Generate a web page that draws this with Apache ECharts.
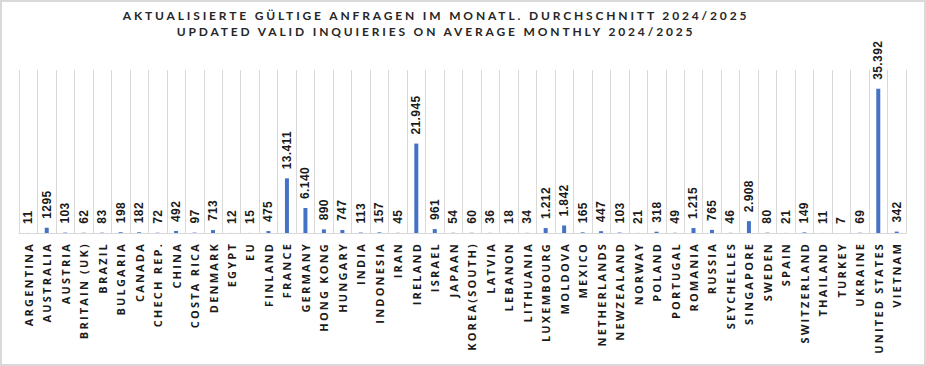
<!DOCTYPE html>
<html>
<head>
<meta charset="utf-8">
<script src="https://cdn.jsdelivr.net/npm/echarts@6/dist/echarts.min.js"></script>
<style>
  html, body { margin: 0; padding: 0; background: #fff; }
  #chart { width: 926px; height: 366px; box-sizing: border-box; border: 2px solid #d9d9d9; }
  #chart text[style*="Lato"] { letter-spacing: 2.85px; }
  #chart text[style*="Open Sans"] { letter-spacing: 2.2px; }
  #chart text[style*="Liberation Sans"] { letter-spacing: 0.4px; }
</style>
</head>
<body>
<div id="chart"></div>
<script>
const titleLines = [
  'AKTUALISIERTE GÜLTIGE ANFRAGEN IM MONATL. DURCHSCHNITT 2024/2025',
  'UPDATED VALID INQUIERIES ON AVERAGE MONTHLY 2024/2025'
];
const categories = ['ARGENTINA','AUSTRALIA','AUSTRIA','BRITAIN (UK)','BRAZIL','BULGARIA','CANADA','CHECH REP.','CHINA','COSTA RICA','DENMARK','EGYPT','EU','FINLAND','FRANCE','GERMANY','HONG KONG','HUNGARY','INDIA','INDONESIA','IRAN','IRELAND','ISRAEL','JAPAAN','KOREA(SOUTH)','LATVIA','LEBANON','LITHUANIA','LUXEMBOURG','MOLDOVA','MEXICO','NETHERLANDS','NEWZEALAND','NORWAY','POLAND','PORTUGAL','ROMANIA','RUSSIA','SEYCHELLES','SINGAPORE','SWEDEN','SPAIN','SWITZERLAND','THAILAND','TURKEY','UKRAINE','UNITED STATES','VIETNAM'];
const values = [11,1295,103,62,83,198,182,72,492,97,713,12,15,475,13411,6140,890,747,113,157,45,21945,961,54,60,36,18,34,1212,1842,165,447,103,21,318,49,1215,765,46,2908,80,21,149,11,7,69,35392,342];
const valueLabels = ['11','1295','103','62','83','198','182','72','492','97','713','12','15','475','13.411','6.140','890','747','113','157','45','21.945','961','54','60','36','18','34','1.212','1.842','165','447','103','21','318','49','1.215','765','46','2.908','80','21','149','11','7','69','35.392','342'];

const chart = echarts.init(document.getElementById('chart'), null, { renderer: 'svg' });
chart.setOption({
  animation: false,
  title: {
    text: titleLines.join('\n'),
    left: 429, top: 0, textAlign: 'center', padding: 5,
    textStyle: { fontFamily: 'Lato', fontWeight: 'bold', fontSize: 12, color: '#262626', lineHeight: 16 }
  },
  grid: { left: 17, right: 18, top: 68, bottom: 131, containLabel: false },
  xAxis: {
    type: 'category',
    data: categories,
    boundaryGap: true,
    axisLine: { lineStyle: { color: '#d9d9d9', width: 1 } },
    axisTick: { show: false },
    splitLine: { show: true, lineStyle: { color: '#d9d9d9', width: 1 } },
    axisLabel: {
      interval: 0, rotate: 90, margin: 9,
      fontFamily: 'Open Sans', fontWeight: 'bold', fontSize: 11, color: '#1a1a1a'
    }
  },
  yAxis: {
    type: 'value', min: 0, max: 40000,
    show: false,
    splitLine: { show: false }
  },
  series: [{
    type: 'bar',
    data: values,
    barWidth: 4,
    itemStyle: { color: '#4472c4' },
    label: {
      show: true, position: 'top', rotate: 90, distance: 9,
      align: 'left', verticalAlign: 'middle',
      fontFamily: 'Liberation Sans', fontWeight: 'bold', fontSize: 12, color: '#1a1a1a',
      formatter: (p) => valueLabels[p.dataIndex]
    }
  }]
});
</script>
</body>
</html>
